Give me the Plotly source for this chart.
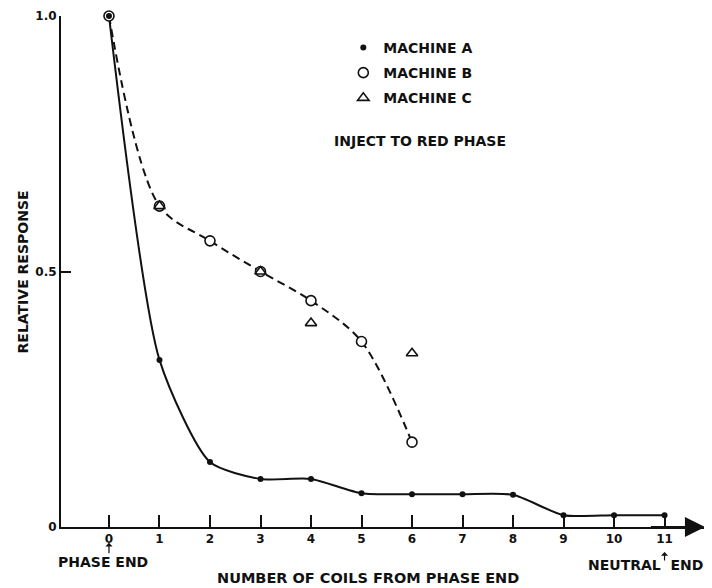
import plotly.graph_objects as go

coils = [0, 1, 2, 3, 4, 5, 6, 7, 8, 9, 10, 11]
machine_a = [1.0, 0.327, 0.127, 0.094, 0.094, 0.066, 0.064, 0.064, 0.063, 0.023, 0.023, 0.023]
coils_b = [0, 1, 2, 3, 4, 5, 6]
machine_b = [1.0, 0.628, 0.56, 0.5, 0.443, 0.363, 0.166]
coils_c = [1, 3, 4, 6]
machine_c = [0.628, 0.5, 0.399, 0.34]

x_ticks = list(range(12))
y_tickvals = [0, 0.5, 1.0]
y_ticktext = ["0", "0.5", "1.0"]

FONT = "DejaVu Sans"
BLACK = "#111111"

def tfont(size=14):
    return dict(family=FONT, size=size, color=BLACK, weight="bold")

fig = go.Figure()

# Machine B dashed curve
fig.add_trace(go.Scatter(x=coils_b, y=machine_b, mode="lines",
                         line=dict(color=BLACK, width=2, dash="8px,5px", shape="spline", smoothing=0.9),
                         showlegend=False, cliponaxis=False, hoverinfo="skip"))
# Machine A solid curve
fig.add_trace(go.Scatter(x=coils, y=machine_a, mode="lines",
                         line=dict(color=BLACK, width=2, shape="spline", smoothing=0.65),
                         showlegend=False, cliponaxis=False, hoverinfo="skip"))

fig.add_trace(go.Scatter(x=coils_b, y=machine_b, mode="markers", name="MACHINE B",
                         legendgroup="b", legendrank=2,
                         marker=dict(symbol="circle", size=10, color="white",
                                     line=dict(color=BLACK, width=1.6)),
                         cliponaxis=False))
fig.add_trace(go.Scatter(x=coils_c, y=machine_c, mode="markers", name="MACHINE C",
                         legendgroup="c", legendrank=3,
                         marker=dict(symbol="triangle-up-open", size=10, color=BLACK,
                                     line=dict(color=BLACK, width=1.6)),
                         cliponaxis=False))
fig.add_trace(go.Scatter(x=coils, y=machine_a, mode="markers", name="MACHINE A",
                         legendgroup="a", legendrank=1,
                         marker=dict(symbol="circle", size=6, color=BLACK),
                         cliponaxis=False))

annotations = [
    # x axis arrow head
    dict(x=11.8, y=0, ax=10.7, ay=0, xref="x", yref="y", axref="x", ayref="y",
         text="", showarrow=True, arrowhead=2, arrowsize=2, arrowwidth=2,
         arrowcolor=BLACK, standoff=0),
    dict(x=0.553, y=0.755, xref="paper", yref="paper", xanchor="center", yanchor="middle",
         text="INJECT TO RED PHASE", showarrow=False, font=tfont()),
    dict(x=0.473, y=-0.0998, xref="paper", yref="paper", xanchor="center", yanchor="middle",
         text="NUMBER OF COILS FROM PHASE END", showarrow=False, font=tfont(14.5)),
    dict(x=0.065, y=-0.0685, xref="paper", yref="paper", xanchor="center", yanchor="middle",
         text="PHASE END", showarrow=False, font=tfont()),
    dict(x=0.90, y=-0.074, xref="paper", yref="paper", xanchor="center", yanchor="middle",
         text="NEUTRAL\u00a0\u00a0END", showarrow=False, font=tfont()),
    dict(x=0, y=-0.031, xref="x", yref="paper", ax=0, ay=12, text="", showarrow=True,
         arrowhead=1, arrowsize=1, arrowwidth=1.2, arrowcolor=BLACK, standoff=0),
    dict(x=11, y=-0.049, xref="x", yref="paper", ax=0, ay=10, text="", showarrow=True,
         arrowhead=1, arrowsize=1, arrowwidth=1.2, arrowcolor=BLACK, standoff=0),
    dict(x=-0.0586, y=0.5, xref="paper", yref="paper", xanchor="center", yanchor="middle",
         text="RELATIVE RESPONSE", textangle=-90, showarrow=False, font=tfont()),
]

fig.update_layout(
    width=704, height=580,
    margin=dict(l=53, r=2, t=8, b=61),
    paper_bgcolor="white", plot_bgcolor="white",
    font=dict(family=FONT, size=12, color=BLACK),
    showlegend=True,
    legend=dict(x=0.435, y=0.969, xanchor="left", yanchor="top",
                bgcolor="rgba(0,0,0,0)", tracegroupgap=4, itemwidth=30,
                font=tfont()),
    annotations=annotations,
    xaxis=dict(range=[-0.95, 11.9], tickmode="array", tickvals=x_ticks,
               ticktext=[str(t) for t in x_ticks],
               ticks="inside", ticklen=12, tickwidth=2, tickcolor=BLACK,
               showline=True, linecolor=BLACK, linewidth=2,
               showgrid=False, zeroline=False, tickfont=tfont(12)),
    yaxis=dict(range=[0, 1.0], tickmode="array", tickvals=y_tickvals, ticktext=y_ticktext,
               ticks="inside", ticklen=10, tickwidth=2, tickcolor=BLACK,
               showline=True, linecolor=BLACK, linewidth=2,
               showgrid=False, zeroline=False, tickfont=tfont(12)),
)

fig.write_html("out.html")
